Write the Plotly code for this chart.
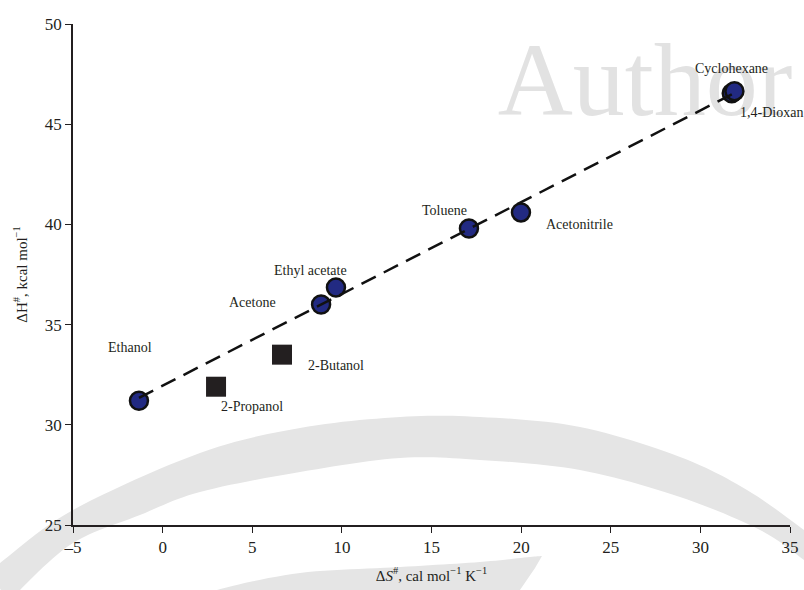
import numpy as np
import plotly.graph_objects as go

# Activation parameters per solvent: entropy (cal/mol/K) vs enthalpy (kcal/mol)
circle_names = ["Ethanol", "Acetone", "Ethyl acetate", "Toluene",
                "Acetonitrile", "1,4-Dioxan", "Cyclohexane"]
circle_ds = [-1.32, 8.84, 9.67, 17.09, 19.99, 31.75, 31.90]
circle_dh = [31.20, 36.00, 36.85, 39.80, 40.60, 46.55, 46.65]

square_names = ["2-Propanol", "2-Butanol"]
square_ds = [2.98, 6.66]
square_dh = [31.90, 33.50]

x_ticks = [-5, 0, 5, 10, 15, 20, 25, 30, 35]
y_ticks = [25, 30, 35, 40, 45, 50]

# label placement (pixel offsets from the marker, anchor)
label_pos = {
    "Ethanol": (-9, 53, "center"),
    "Acetone": (-69, 2, "center"),
    "Ethyl acetate": (-25, 17, "center"),
    "Toluene": (-24, 18, "center"),
    "Acetonitrile": (59, -12, "center"),
    "Cyclohexane": (-3, 23, "center"),
    "1,4-Dioxan": (6, -19, "left"),
    "2-Propanol": (36, -20, "center"),
    "2-Butanol": (54, -11, "center"),
}

W, H = 804, 590
L, R, T, B = 73, 14, 24, 65
PW, PH = W - L - R, H - T - B
SERIF = "Liberation Serif, Times New Roman, serif"
GRAY = "#e5e5e5"


def to_paper(pts):
    return [((px - L) / PW, (H - B - py) / PH) for px, py in pts]


def smooth(pts, n=12):
    """Catmull-Rom sampling through the given pixel points."""
    p = np.array(pts, dtype=float)
    p = np.vstack([p[0], p, p[-1]])
    out = []
    for i in range(1, len(p) - 2):
        p0, p1, p2, p3 = p[i - 1], p[i], p[i + 1], p[i + 2]
        for t in np.linspace(0, 1, n, endpoint=False):
            t2, t3 = t * t, t * t * t
            out.append(0.5 * ((2 * p1) + (-p0 + p2) * t
                              + (2 * p0 - 5 * p1 + 4 * p2 - p3) * t2
                              + (-p0 + 3 * p1 - 3 * p2 + p3) * t3))
    out.append(p[-2])
    return [tuple(q) for q in out]


def path_str(pts):
    pp = to_paper(pts)
    return "M " + " L ".join(f"{x:.4f},{y:.4f}" for x, y in pp) + " Z"


# background arc decorations (pixel outlines)
outer = [(-10, 572), (0, 563), (73, 510), (200, 453), (300, 428), (400, 417),
         (480, 417), (580, 427), (680, 457), (747, 490), (804, 530), (815, 540)]
inner = [(815, 570), (804, 560), (760, 530), (680, 497), (580, 470), (480, 460),
         (400, 458), (300, 472), (200, 492), (140, 515), (73, 543), (20, 590),
         (10, 605)]
arc = smooth(outer) + smooth(inner)
lower = smooth([(205, 600), (217, 590), (300, 573), (400, 567), (480, 562),
                (530, 557), (542, 556)]) + [(535, 568), (520, 590), (515, 600)]

fig = go.Figure()

fig.add_trace(go.Scatter(
    x=circle_ds, y=circle_dh, mode="markers",
    marker=dict(symbol="circle", size=18, color="#222a82",
                line=dict(color="#111111", width=2.5)),
    hoverinfo="text", text=circle_names, showlegend=False))

fig.add_trace(go.Scatter(
    x=square_ds, y=square_dh, mode="markers",
    marker=dict(symbol="square", size=20, color="#231f20",
                line=dict(width=0)),
    hoverinfo="text", text=square_names, showlegend=False))

# linear fit through the circle series, drawn over the markers
slope, icept = np.polyfit(circle_ds, circle_dh, 1)
fx = np.array([min(circle_ds), max(circle_ds)])
fig.add_trace(go.Scatter(
    x=fx, y=slope * fx + icept, mode="lines",
    line=dict(color="#111111", width=2.5, dash="16px,9px"),
    hoverinfo="skip", showlegend=False))

annotations = []
for names, xs, ys in ((circle_names, circle_ds, circle_dh),
                      (square_names, square_ds, square_dh)):
    for nm, x, y in zip(names, xs, ys):
        dx, dy, anchor = label_pos[nm]
        annotations.append(dict(
            x=x, y=y, text=nm, showarrow=False, xanchor=anchor,
            yanchor="middle", xshift=dx, yshift=dy,
            font=dict(family=SERIF, size=14, color="#231f20")))

shapes = [
    dict(type="path", xref="paper", yref="paper", path=path_str(arc),
         fillcolor=GRAY, line=dict(width=0), layer="below"),
    dict(type="path", xref="paper", yref="paper", path=path_str(lower),
         fillcolor=GRAY, line=dict(width=0), layer="below"),
    dict(type="rect", xref="paper", yref="paper",
         x0=(490 - L) / PW, x1=(800 - L) / PW,
         y0=(H - B - 104) / PH, y1=(H - B - 32) / PH,
         line=dict(width=0), fillcolor="rgba(0,0,0,0)", layer="below",
         label=dict(text="Author", textposition="middle center",
                    font=dict(family=SERIF, size=104, color="#e2e2e2"))),
]

axis_common = dict(
    showline=True, linecolor="#231f20", linewidth=1.5,
    ticks="outside", ticklen=6, tickwidth=1.2, tickcolor="#231f20",
    showgrid=False, zeroline=False, automargin=False,
    tickfont=dict(family=SERIF, size=17, color="#231f20"),
)

fig.update_layout(
    width=W, height=H,
    margin=dict(l=L, r=R, t=T, b=B),
    paper_bgcolor="white", plot_bgcolor="rgba(0,0,0,0)",
    showlegend=False,
    annotations=annotations,
    shapes=shapes,
    xaxis=dict(range=[-5, 35], tickvals=x_ticks,
               ticktext=[str(v).replace("-", "\u2013") for v in x_ticks],
               title=dict(text="\u0394<i>S</i><sup>#</sup>, cal mol<sup>\u22121</sup> K<sup>\u22121</sup>",
                          font=dict(family=SERIF, size=15, color="#231f20"),
                          standoff=14),
               **axis_common),
    yaxis=dict(range=[25, 50], tickvals=y_ticks,
               title=dict(text="\u0394H<sup>#</sup>, kcal mol<sup>\u22121</sup>",
                          font=dict(family=SERIF, size=15, color="#231f20"),
                          standoff=14),
               **axis_common),
)

fig.write_html("out.html")
